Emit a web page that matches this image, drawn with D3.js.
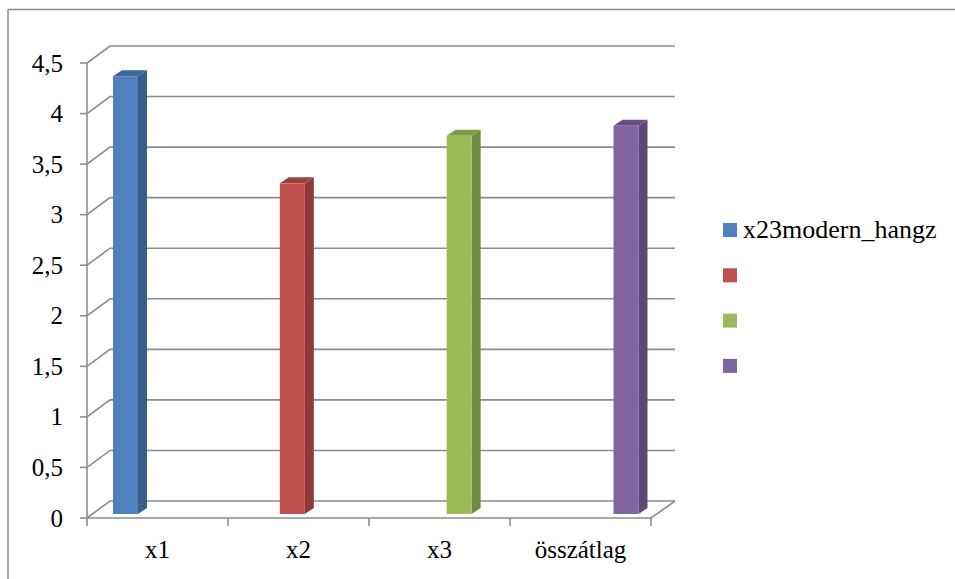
<!DOCTYPE html>
<html>
<head>
<meta charset="utf-8">
<script src="https://cdn.jsdelivr.net/npm/d3@7"></script>
</head>
<body style="margin:0">
<svg id="chart" width="955" height="579"></svg>
<script>
// Categories, values and tick labels
const categories = ["x1", "x2", "x3", "összátlag"];
const values = [4.33, 3.27, 3.74, 3.84];
const yTicks = [0, 0.5, 1, 1.5, 2, 2.5, 3, 3.5, 4, 4.5];
const legendLabels = ["x23modern_hangz", "", "", ""];

// Face colours: front, side, top
const frontColors = ["#4F81BD", "#C0504D", "#9BBB59", "#8064A2"];
const sideColors  = ["#395E8C", "#8E3A38", "#728A41", "#5D4978"];
const topColors   = ["#3F679A", "#9C403D", "#7E9A47", "#674F85"];

const svg = d3.select("#chart");
const fmt = d => String(d).replace(".", ",");
const gridColor = "#8c8c8c";
const fontName = "Liberation Serif";

// Outer frame
svg.append("path")
  .attr("d", "M8,579 L8,9.5 L955,9.5")
  .attr("fill", "none").attr("stroke", "#8a8a8a").attr("stroke-width", 1.5);

// Front axis geometry and depth offset of the back wall
const y = d3.scaleLinear().domain([0, 4.5]).range([518, 63]);
const x = d3.scaleBand().domain(categories).range([87, 651]);
const wallDx = 23, wallDy = -17;
const wallRight = x.range()[1] + 24;

// Gridlines: short diagonal on the side wall, then across the back wall
const grid = svg.append("g");
yTicks.forEach(t => {
  const yy = y(t);
  grid.append("path")
    .attr("d", `M${x.range()[0]},${yy} L${x.range()[0] + wallDx},${yy + wallDy} L${wallRight},${yy + wallDy}`)
    .attr("fill", "none").attr("stroke", gridColor).attr("stroke-width", 1.6);
});
// Floor front edge and right diagonal
grid.append("path")
  .attr("d", `M${x.range()[0]},${y(0)} L${x.range()[1]},${y(0)} L${wallRight},${y(0) + wallDy}`)
  .attr("fill", "none").attr("stroke", gridColor).attr("stroke-width", 1.6);

// Value axis
const yAxis = svg.append("g");
yAxis.append("line")
  .attr("x1", x.range()[0]).attr("x2", x.range()[0])
  .attr("y1", y(4.5)).attr("y2", y(0) + 1)
  .attr("stroke", gridColor).attr("stroke-width", 1.6);
yTicks.forEach(t => {
  yAxis.append("line")
    .attr("x1", x.range()[0] - 7).attr("x2", x.range()[0])
    .attr("y1", y(t)).attr("y2", y(t))
    .attr("stroke", gridColor).attr("stroke-width", 1.6);
});
yTicks.forEach(t => {
  svg.append("text")
    .attr("x", 63).attr("y", y(t) + 8.5)
    .style("font-family", `'${fontName}'`).style("font-size", "25px")
    .style("text-anchor", "end")
    .text(fmt(t));
});

// Category axis ticks and labels
const xAxis = svg.append("g");
const boundaries = categories.map(c => x(c)).concat([x.range()[1]]);
boundaries.forEach(bx => {
  xAxis.append("line")
    .attr("x1", bx).attr("x2", bx)
    .attr("y1", y(0)).attr("y2", y(0) + 8)
    .attr("stroke", gridColor).attr("stroke-width", 1.6);
});
categories.forEach(c => {
  svg.append("text")
    .attr("x", x(c) + x.bandwidth() / 2).attr("y", 558)
    .style("font-family", `'${fontName}'`).style("font-size", "25px")
    .style("text-anchor", "middle")
    .text(c);
});

// 3D columns, standing mid-depth on the floor
const barX = d3.scalePoint().domain(categories).range([125.5, 626]);
const barW = 25, depthDx = 9, depthDy = -6, baseLift = 4;
const yBar = v => y(v) - baseLift;

const bars = svg.append("g");
categories.forEach((c, i) => {
  const x0 = barX(c) - barW / 2, x1 = x0 + barW;
  const top = yBar(values[i]), base = yBar(0);
  // side face
  bars.append("path")
    .attr("d", `M${x1},${top} L${x1 + depthDx},${top + depthDy} L${x1 + depthDx},${base + depthDy} L${x1},${base} Z`)
    .attr("fill", sideColors[i]);
  // top face
  bars.append("path")
    .attr("d", `M${x0},${top} L${x0 + depthDx},${top + depthDy} L${x1 + depthDx},${top + depthDy} L${x1},${top} Z`)
    .attr("fill", topColors[i]);
  // front face
  bars.append("rect")
    .attr("x", x0).attr("y", top)
    .attr("width", barW).attr("height", base - top)
    .attr("fill", frontColors[i]);
});

// Legend
legendLabels.forEach((lab, i) => {
  const ly = 223 + i * 45.3;
  svg.append("rect")
    .attr("x", 723).attr("y", ly)
    .attr("width", 14).attr("height", 14)
    .attr("fill", frontColors[i]);
  if (lab) {
    svg.append("text")
      .attr("x", 743).attr("y", ly + 15)
      .style("font-family", `'${fontName}'`).style("font-size", "26px")
      .text(lab);
  }
});
</script>
</body>
</html>
